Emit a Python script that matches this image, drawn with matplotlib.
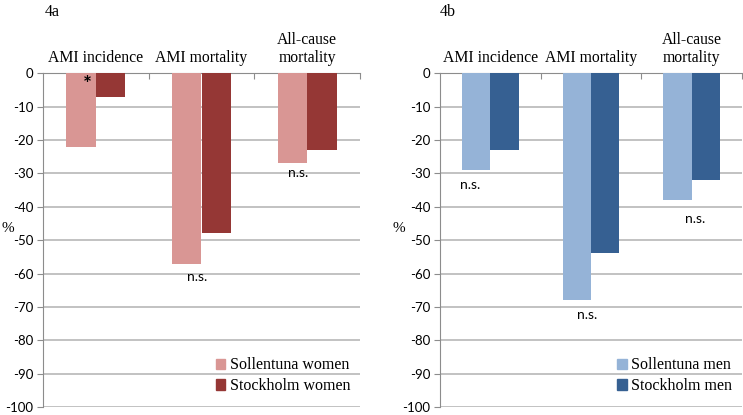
import numpy as np
import matplotlib
matplotlib.use("Agg")
import matplotlib.pyplot as plt
from matplotlib.patches import Patch

categories = ["AMI incidence", "AMI mortality", "All-cause\nmortality"]
sollentuna_women = [-22, -57, -27]
stockholm_women = [-7, -48, -23]
sollentuna_men = [-29, -68, -38]
stockholm_men = [-23, -54, -32]
yticks = list(range(0, -101, -10))

# significance marks: (category x, value, text)
marks_a = [(-0.08, -3.5, "*"), (0.96, -61, "n.s."), (1.91, -30, "n.s.")]
marks_b = [(-0.2, -33.5, "n.s."), (0.96, -72.5, "n.s."), (2.03, -43.7, "n.s.")]

serif = "Liberation Serif"
sans = "Lato"

fig = plt.figure(figsize=(7.43, 4.15), dpi=100)
ax_a = fig.add_axes([43/743, 8/415, (360-43)/743, (407-73.3)/415])
ax_b = fig.add_axes([440/743, 8/415, (742-440)/743, (407-73.3)/415])

panels = [
    (ax_a, sollentuna_women, stockholm_women, "#D99694", "#953735",
     ["Sollentuna women", "Stockholm women"], marks_a, 8),
    (ax_b, sollentuna_men, stockholm_men, "#95B3D7", "#366092",
     ["Sollentuna men", "Stockholm men"], marks_b, 399),
]

x = np.arange(len(categories))
w = 0.28
for ax, s1, s2, c1, c2, labels, marks, pct_x in panels:
    ax.bar(x - w/2, s1, w, color=c1, zorder=3)
    ax.bar(x + w/2, s2, w, color=c2, zorder=3)
    ax.set_xlim(-0.5, 2.5)
    ax.set_ylim(-100, 0)
    ax.set_yticks(yticks)
    ax.set_yticklabels([str(v) for v in yticks], fontfamily=sans, fontsize=9.5)
    ax.yaxis.grid(True, color="#bdbdbd", linewidth=1.3, zorder=0)
    ax.set_axisbelow(True)
    for sp in ["right", "bottom"]:
        ax.spines[sp].set_visible(False)
    ax.spines["left"].set_color("#8c8c8c")
    ax.spines["top"].set_color("#8c8c8c")
    ax.tick_params(axis="y", length=4, color="#8c8c8c", pad=3)
    ax.xaxis.tick_top()
    ax.set_xticks([0.5, 1.5, 2.5])
    ax.set_xticklabels([])
    ax.tick_params(axis="x", direction="in", length=4, color="#8c8c8c")
    for xi, cat in zip(x, categories):
        ax.text(xi, 1.022, cat, transform=ax.get_xaxis_transform(),
                ha="center", va="bottom", fontfamily=serif, fontsize=11.3,
                multialignment="center", linespacing=1.15)
    for mx, my, mt in marks:
        if mt == "*":
            ax.text(mx, my, mt, ha="center", va="center", fontfamily=sans,
                    fontsize=15, fontweight="bold", zorder=5)
        else:
            ax.text(mx, my, mt, ha="center", va="center", fontfamily=sans,
                    fontsize=10, zorder=5)
    handles = [Patch(color=c1), Patch(color=c2)]
    ax.legend(handles, labels, loc="lower right", bbox_to_anchor=(1.0, 0.01),
              frameon=False, prop={"family": serif, "size": 11.5},
              handlelength=0.6, handleheight=0.6, handletextpad=0.3,
              labelspacing=0.3, borderaxespad=0.2)
    fig.text(pct_x/743, 1 - 228/415, "%", ha="center", va="center",
             fontfamily=serif, fontsize=11)

fig.text(45/743, 1 - 12/415, "4a", fontfamily=serif, fontsize=11.5, va="center")
fig.text(440/743, 1 - 12/415, "4b", fontfamily=serif, fontsize=11.5, va="center")

fig.savefig("out.png", dpi=100)
